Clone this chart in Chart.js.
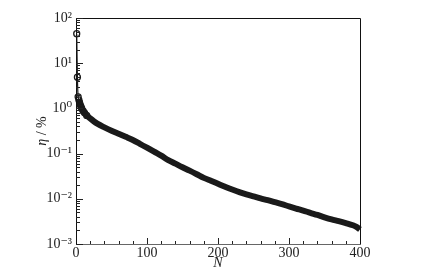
<!DOCTYPE html>
<html>
<head>
<meta charset="utf-8">
<script src="https://cdn.jsdelivr.net/npm/chart.js@4/dist/chart.umd.min.js"></script>
<style>
html,body{margin:0;padding:0;background:#fff;}
#wrap{width:425px;height:270px;}
</style>
</head>
<body>
<div id="wrap"><canvas id="c" width="425" height="270"></canvas></div>
<script>
// ---- data ----
const N = [1,2,3,4,5,6,7,8,10,12,15,20,25,30,40,50,60,70,80,90,100,110,120,130,140,150,160,170,180,190,200,210,220,230,240,250,260,270,280,290,300,310,320,330,340,350,360,370,380,390,395,400];
const eta = [45,4.9,1.8,1.55,1.35,1.2,1.1,1.0,0.88,0.8,0.7,0.6,0.52,0.46,0.38,0.32,0.275,0.235,0.2,0.165,0.135,0.11,0.09,0.072,0.06,0.05,0.042,0.035,0.029,0.025,0.0215,0.0185,0.016,0.014,0.0125,0.0113,0.0102,0.0093,0.0084,0.0076,0.0068,0.0061,0.0055,0.0049,0.0044,0.0039,0.0035,0.0032,0.0029,0.0026,0.0024,0.0021];
const xTicks = [0,100,200,300,400];
const yExponents = [-3,-2,-1,0,1,2];
const xTitle = 'N';
const yTitleSym = 'η';
const yTitleUnit = ' / %';

const SUP = {'-':'⁻','0':'⁰','1':'¹','2':'²','3':'³','4':'⁴','5':'⁵','6':'⁶','7':'⁷','8':'⁸','9':'⁹'};
const sup = s => String(s).split('').map(c => SUP[c]).join('');
const FONT = "'Liberation Serif', 'DejaVu Serif', serif";
const INK = '#222';

const frame = {
  id: 'frame',
  afterDraw(chart) {
    const ctx = chart.ctx, a = chart.chartArea;
    const xs = chart.scales.x, ys = chart.scales.y;
    ctx.save();
    ctx.lineWidth = 1;
    // box
    ctx.strokeStyle = '#111';
    ctx.beginPath();
    ctx.moveTo(a.left + 0.5, a.bottom); ctx.lineTo(a.left + 0.5, a.top + 0.5);
    ctx.lineTo(a.right + 0.5, a.top + 0.5); ctx.lineTo(a.right + 0.5, a.bottom);
    ctx.stroke();
    ctx.strokeStyle = '#666';
    ctx.beginPath();
    ctx.moveTo(a.left, a.bottom + 0.5); ctx.lineTo(a.right + 1, a.bottom + 0.5);
    ctx.stroke();
    // x ticks (inward)
    ctx.strokeStyle = '#222';
    ctx.beginPath();
    for (let v = 20; v < 400; v += 20) {
      const px = Math.round(xs.getPixelForValue(v)) + 0.5;
      const len = (v % 100 === 0) ? 6 : 3;
      ctx.moveTo(px, a.bottom); ctx.lineTo(px, a.bottom - len);
    }
    ctx.stroke();
    // y ticks (inward, log minor)
    ctx.beginPath();
    for (const e of yExponents) {
      for (let m = 1; m <= 9; m++) {
        const v = m * Math.pow(10, e);
        if (v > 100 + 1e-9) break;
        const py = Math.round(ys.getPixelForValue(v)) + 0.5;
        const len = m === 1 ? 7 : 4;
        ctx.moveTo(a.left, py); ctx.lineTo(a.left + len, py);
      }
    }
    ctx.stroke();
    // titles
    ctx.fillStyle = INK;
    ctx.font = 'italic 14px ' + FONT;
    ctx.textAlign = 'center';
    ctx.textBaseline = 'middle';
    ctx.fillText(xTitle, (a.left + a.right) / 2, 263);
    ctx.translate(42, 131);
    ctx.rotate(-Math.PI / 2);
    ctx.font = 'italic 14px ' + FONT;
    const w1 = ctx.measureText(yTitleSym).width;
    ctx.font = '14px ' + FONT;
    const w2 = ctx.measureText(yTitleUnit).width;
    const x0 = -(w1 + w2) / 2;
    ctx.textAlign = 'left';
    ctx.font = 'italic 14px ' + FONT;
    ctx.fillText(yTitleSym, x0, 0);
    ctx.font = '14px ' + FONT;
    ctx.fillText(yTitleUnit, x0 + w1, 0);
    ctx.restore();
  }
};

new Chart(document.getElementById('c'), {
  type: 'line',
  data: {
    datasets: [{
      data: N.map((n, i) => ({x: n, y: eta[i]})),
      borderColor: '#1a1a1a',
      borderWidth: 6,
      pointRadius: c => (c.dataIndex < 11 ? 3 : 0),
      pointBorderWidth: 1.3,
      pointBorderColor: '#1a1a1a',
      pointBackgroundColor: 'rgba(0,0,0,0)',
      cubicInterpolationMode: 'monotone',
      segment: { borderWidth: c => (c.p0DataIndex < 3 ? 1.2 : 6) },
      clip: false
    }]
  },
  options: {
    responsive: false,
    animation: false,
    devicePixelRatio: 1,
    layout: { padding: { left: 0, right: 65, top: 18, bottom: 0 } },
    plugins: { legend: { display: false }, tooltip: { enabled: false } },
    scales: {
      x: {
        type: 'linear', min: 0, max: 400,
        afterBuildTicks: s => { s.ticks = xTicks.map(v => ({value: v})); },
        ticks: { color: INK, font: { family: FONT, size: 14 }, padding: 1, maxRotation: 0 },
        grid: { display: false, drawTicks: false },
        border: { display: false },
        afterFit: s => { s.height = 26; }
      },
      y: {
        type: 'logarithmic', min: 1e-3, max: 100,
        afterBuildTicks: s => { s.ticks = yExponents.map(e => ({value: Math.pow(10, e), major: true})); },
        ticks: {
          color: INK, font: { family: FONT, size: 14 }, padding: 4,
          callback: v => '10' + sup(Math.round(Math.log10(v)))
        },
        grid: { display: false, drawTicks: false },
        border: { display: false },
        afterFit: s => { s.width = 76; }
      }
    }
  },
  plugins: [frame]
});
</script>
</body>
</html>
